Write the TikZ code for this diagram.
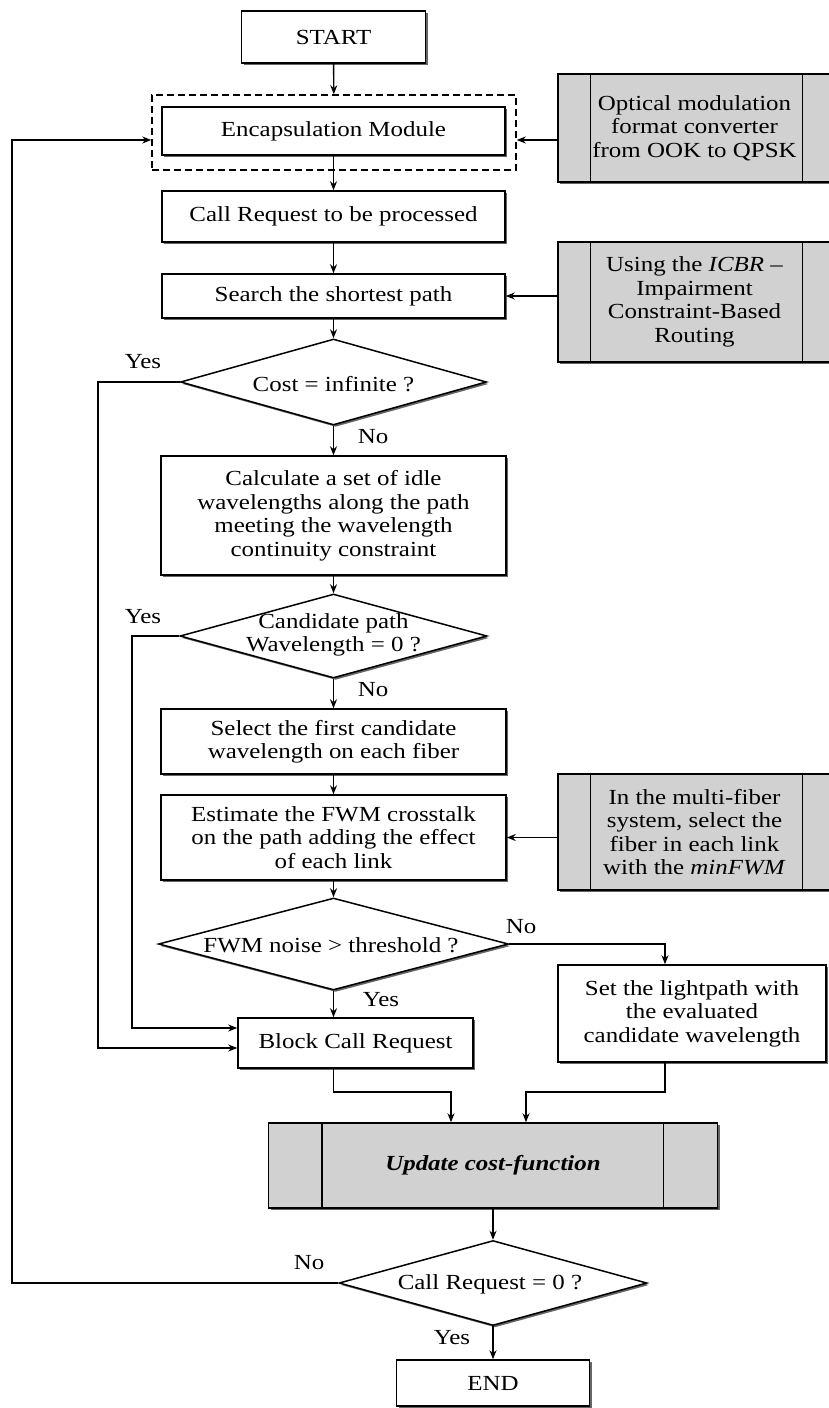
\documentclass[tikz,border=0pt]{standalone}
\usepackage{fontspec}
\setmainfont[FakeStretch=1.16]{Liberation Serif}
\usetikzlibrary{arrows.meta,shapes.geometric,shadows,calc}

\begin{document}
\begin{tikzpicture}[x=1pt,y=-1pt,
  every node/.style={font=\fontsize{21.5}{23.5}\selectfont, inner sep=0pt, align=center},
  shade3d/.style={drop shadow={shadow xshift=2pt, shadow yshift=-2pt, fill=black!60, opacity=1}},
  proc/.style={draw, line width=1.5pt, fill=white, shade3d},
  gbox/.style={draw, line width=1.5pt, fill=black!18, shade3d},
  decision/.style={diamond, draw, line width=1.5pt, fill=white, shade3d},
  groupbox/.style={draw, line width=1.5pt, dash pattern=on 7pt off 4pt},
  arr/.style={line width=1.4pt, -{Stealth[length=9pt,width=7pt]}},
  sub/.style={line width=1.5pt}
]
\clip (0,0) rectangle (829,1408);
\fill[white] (0,0) rectangle (829,1408);

% main column
\node[proc, minimum width=184pt, minimum height=52pt] (start) at (333.5,37) {START};
\node[groupbox, minimum width=364pt, minimum height=75pt] (encgroup) at (334,132.5) {};
\node[proc, minimum width=343pt, minimum height=48pt] (enc) at (333.5,131) {Encapsulation Module};
\node[proc, minimum width=343pt, minimum height=51pt] (callreq) at (333.5,216.5) {Call Request to be processed};
\node[proc, minimum width=343pt, minimum height=44pt] (search) at (333.5,296) {Search the shortest path};
\node[decision, minimum width=306pt, minimum height=86pt] (cost) at (333.5,382) {};
\node (costtxt) at (333.5,384) {Cost = infinite ?};
\node[proc, minimum width=345pt, minimum height=119pt] (calc) at (333.5,515.5)
  {Calculate a set of idle\\wavelengths along the path\\meeting the wavelength\\continuity constraint};
\node[decision, minimum width=307pt, minimum height=84pt] (cand) at (333.5,636) {};
\node (candtxt) at (333.5,635) {Candidate path\\Wavelength = 0 ?};
\node[proc, minimum width=345pt, minimum height=65pt] (select) at (333.5,741.5)
  {Select the first candidate\\wavelength on each fiber};
\node[proc, minimum width=345pt, minimum height=85pt] (estimate) at (333.5,837.5)
  {Estimate the FWM crosstalk\\on the path adding the effect\\of each link};
\node[decision, minimum width=350pt, minimum height=92pt] (fwm) at (333.5,944) {};
\node (fwmtxt) at (331,945) {FWM noise > threshold ?};
\node[proc, minimum width=235pt, minimum height=50pt] (block) at (355.5,1043) {Block Call Request};
\node[proc, minimum width=268pt, minimum height=97pt] (setlp) at (692,1013.5)
  {Set the lightpath with\\the evaluated\\candidate wavelength};
\node[gbox, minimum width=449pt, minimum height=85pt] (update) at (493,1165.5)
  {\bfseries\itshape Update cost-function};
\node[decision, minimum width=308pt, minimum height=85pt] (callz) at (493,1283) {};
\node (callztxt) at (490,1284) {Call Request = 0 ?};
\node[proc, minimum width=193pt, minimum height=46pt] (endn) at (493,1383) {END};

% side modules
\node[gbox, minimum width=273pt, minimum height=108pt] (opt) at (694.5,128)
  {Optical modulation\\format converter\\from OOK to QPSK};
\node[gbox, minimum width=273pt, minimum height=120pt] (icbr) at (694.5,302)
  {Using the \textit{ICBR} –\\Impairment\\Constraint-Based\\Routing};
\node[gbox, minimum width=273pt, minimum height=116pt] (minf) at (694.5,832)
  {In the multi-fiber\\system, select the\\fiber in each link\\with the \textit{minFWM}};

% inner bars of the predefined-process boxes
\foreach \b in {opt,icbr,minf}{
  \draw[sub] ($(\b.north west)+(33,0)$) -- ($(\b.south west)+(33,0)$);
  \draw[sub] ($(\b.north west)+(245,0)$) -- ($(\b.south west)+(245,0)$);
}
\draw[sub] ($(update.north west)+(54,0)$) -- ($(update.south west)+(54,0)$);
\draw[sub] ($(update.north east)+(-55,0)$) -- ($(update.south east)+(-55,0)$);

% routing helpers
\coordinate (xa) at (98,0);
\coordinate (xb) at (132,0);
\coordinate (xc) at (665,0);
\coordinate (xd) at (451,0);
\coordinate (xe) at (526,0);
\coordinate (xl) at (12,0);
\coordinate (ya) at (0,1048);
\coordinate (yb) at (0,1028);
\coordinate (yfb) at (0,140);
\coordinate (ym) at (0,1092);

% connectors
\draw[arr] (start) -- (encgroup);
\draw[arr] (enc) -- (callreq);
\draw[arr] (callreq) -- (search);
\draw[arr] (search) -- (cost);
\draw[arr] (cost) -- (calc);
\draw[arr] (calc) -- (cand);
\draw[arr] (cand) -- (select);
\draw[arr] (select) -- (estimate);
\draw[arr] (estimate) -- (fwm);
\draw[arr] (fwm.south) -- (fwm.south |- block.north);
\draw[arr] (cost.west) -| (xa |- ya) -- (block.west |- ya);
\draw[arr] (cand.west) -| (xb |- yb) -- (block.west |- yb);
\draw[arr] (fwm.east) -| (setlp.north -| xc);
\draw[arr] (block.south -| fwm) |- (xd |- ym) -- (update.north -| xd);
\draw[arr] (setlp.south -| xc) |- (xe |- ym) -- (update.north -| xe);
\draw[arr] (update) -- (callz);
\draw[arr] (callz) -- (endn);
\draw[arr] (callz.west) -| (xl |- yfb) -- (encgroup.west |- yfb);
\draw[arr] (opt.west |- yfb) -- (encgroup.east |- yfb);
\draw[arr] (icbr.west |- search) -- (search.east);
\draw[arr] (minf.west |- estimate) -- (estimate.east);

% branch labels
\node (lyes1) at (143,362) {Yes};
\node (lno1) at (373,437) {No};
\node (lyes2) at (143,617) {Yes};
\node (lno2) at (373,690) {No};
\node (lno3) at (521,927) {No};
\node (lyes3) at (381,1000) {Yes};
\node (lno4) at (309,1263) {No};
\node (lyes4) at (452,1338) {Yes};
\end{tikzpicture}
\end{document}
